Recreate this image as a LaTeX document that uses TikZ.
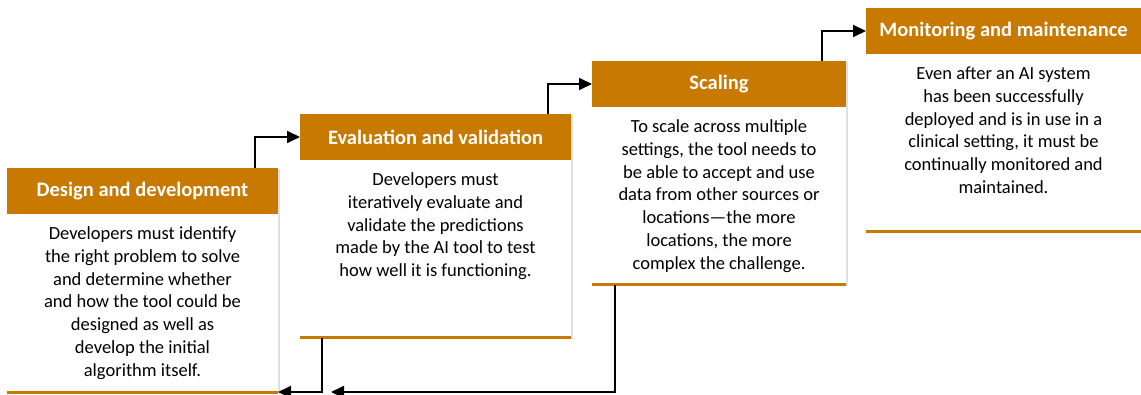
\documentclass[tikz,border=0pt]{standalone}
\usepackage{fontspec}
\setmainfont{Carlito}
\usepackage{tikz}
\usepackage{xcolor}
\usetikzlibrary{positioning,arrows.meta,shadows}
\definecolor{stage-orange}{RGB}{199,121,0}
\tikzset{
    stage-shadow/.style = {drop shadow={shadow xshift=1.5pt, shadow yshift=-1.5pt, fill=black!35, opacity=0.35}},
    stage-head/.style = {fill=stage-orange, text=white, font=\fontsize{20.5}{24}\selectfont\bfseries, rectangle, anchor=north west, minimum height=46pt, inner sep=0pt, outer sep=0pt, stage-shadow},
    stage-body/.style = {fill=white, rectangle, inner xsep=8pt, inner ysep=10pt, outer sep=0pt, stage-shadow},
    stage-rule/.style = {draw=stage-orange, line width=3pt},
    flow-arrow/.style = {draw=black, line width=1.8pt, -{Triangle[length=13pt,width=12pt]}},
}

\begin{document}
\begin{tikzpicture}[x=1pt, y=-1pt]
\useasboundingbox (0,0) rectangle (1141,395);

% stage headers
\node [stage-head, minimum width=271pt] (design-head) at (7,168) {Design and development};
\node [stage-head, minimum width=271pt] (eval-head) at (300,114) {Evaluation and validation};
\node [stage-head, minimum width=254pt] (scale-head) at (592,61) {Scaling};
\node [stage-head, minimum width=275pt] (monitor-head) at (866,8) {Monitoring and maintenance};

% stage bodies
\node [stage-body, below=0pt of design-head] (design-body) {\begin{minipage}[c][158pt][t]{255pt}
    \centering\fontsize{18.5}{22.7}\selectfont\strut
    Developers must identify\\ the right problem to solve\\ and determine whether\\ and how the tool could be\\ designed as well as\\ develop the initial\\ algorithm itself.
\end{minipage}};
\node [stage-body, below=0pt of eval-head] (eval-body) {\begin{minipage}[c][158pt][t]{255pt}
    \centering\fontsize{18.5}{22.7}\selectfont\strut
    Developers must\\ iteratively evaluate and\\ validate the predictions\\ made by the AI tool to test\\ how well it is functioning.
\end{minipage}};
\node [stage-body, below=0pt of scale-head] (scale-body) {\begin{minipage}[c][158pt][t]{238pt}
    \centering\fontsize{18.5}{22.7}\selectfont\strut
    To scale across multiple\\ settings, the tool needs to\\ be able to accept and use\\ data from other sources or\\ locations—the more\\ locations, the more\\ complex the challenge.
\end{minipage}};
\node [stage-body, below=0pt of monitor-head] (monitor-body) {\begin{minipage}[c][158pt][t]{259pt}
    \centering\fontsize{18.5}{22.7}\selectfont\strut
    Even after an AI system\\ has been successfully\\ deployed and is in use in a\\ clinical setting, it must be\\ continually monitored and\\ maintained.
\end{minipage}};

\foreach \s in {design,eval,scale,monitor}
    \draw [stage-rule] (\s-body.south west) -- (\s-body.south east);

% forward steps
\draw [flow-arrow] ([xshift=-23pt]design-head.north east) |- (eval-head.west);
\draw [flow-arrow] ([xshift=-23pt]eval-head.north east) |- (scale-head.west);
\draw [flow-arrow] ([xshift=-24pt]scale-head.north east) |- (monitor-head.west);

% loops back
\coordinate (scale-return) at ([xshift=53pt]design-body.south east);
\draw [flow-arrow] ([xshift=22pt]eval-body.south west) |- (design-body.south east);
\draw [flow-arrow] ([xshift=23pt]scale-body.south west) |- (scale-return);
\end{tikzpicture}
\end{document}
